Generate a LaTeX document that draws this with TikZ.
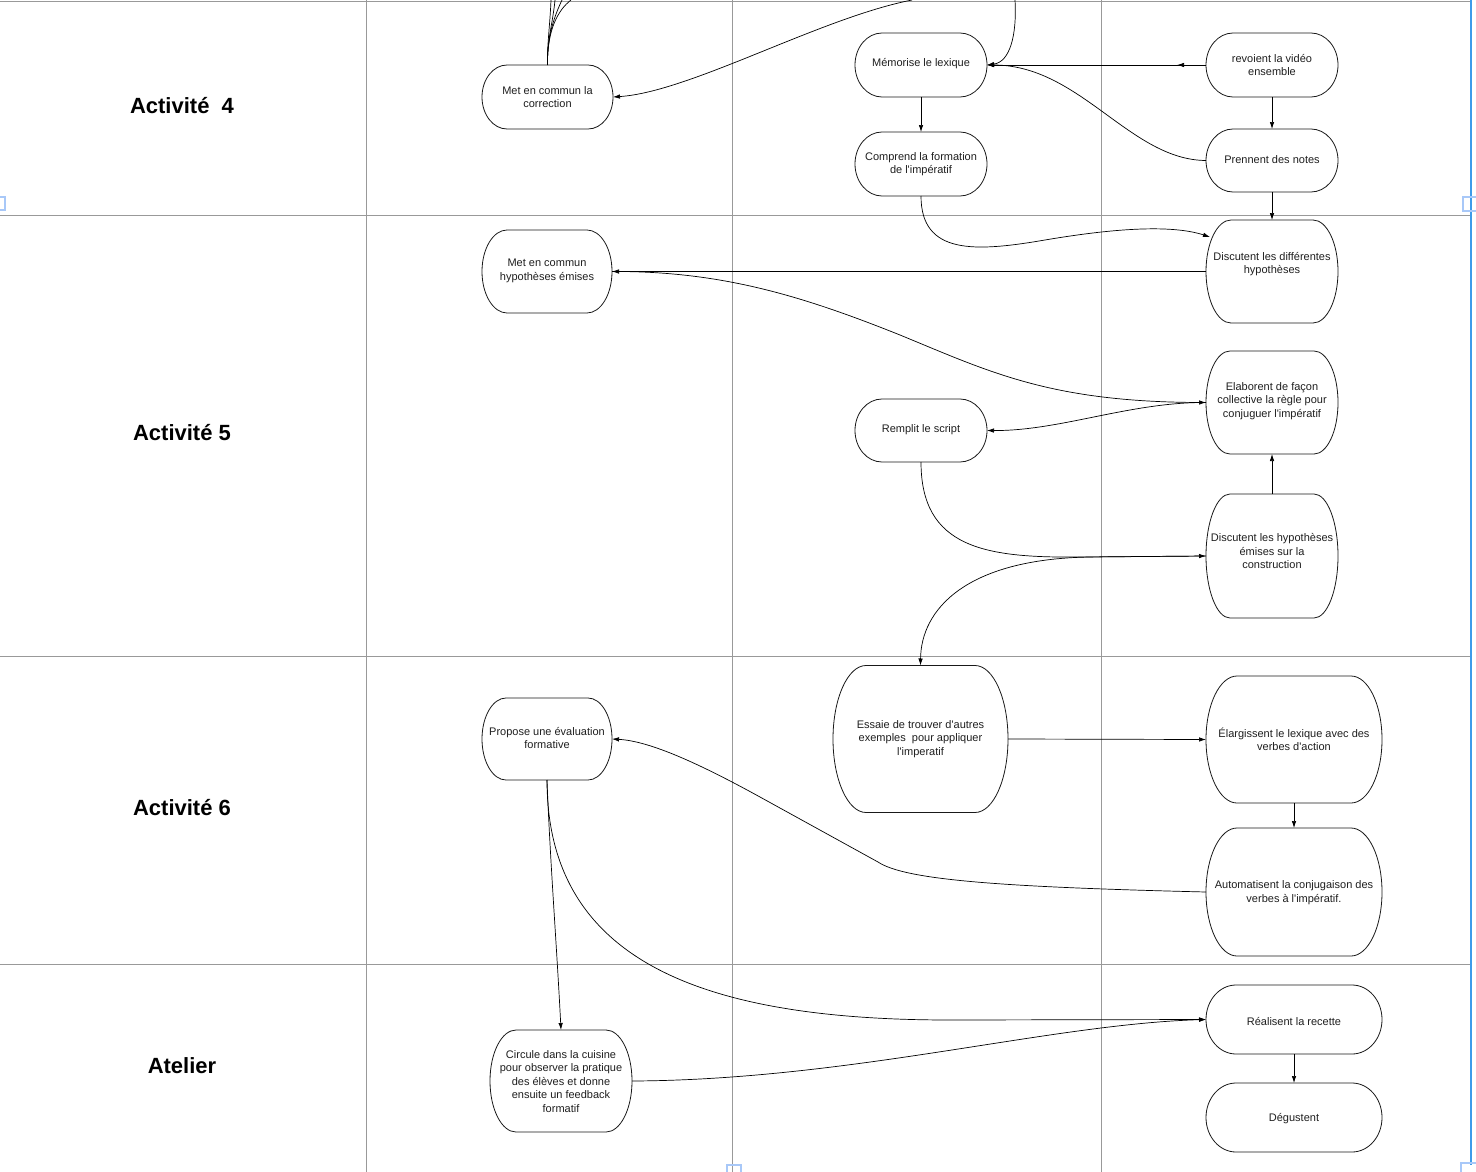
\documentclass[tikz,border=0pt]{standalone}
\usepackage{fontspec}
\setmainfont{Liberation Sans}[Ligatures=TeXOff]
\usetikzlibrary{arrows.meta,calc}
\definecolor{selblue}{HTML}{3D9BE9}
\definecolor{handleblue}{HTML}{A8C8F8}
\tikzset{
 lane/.style={draw=black!40, line width=0.8pt},
 outline/.style={draw=black!90, line width=0.8pt},
 shapebox/.style={rectangle, draw=none, inner sep=0pt, outer sep=0pt},
 nodetext/.style={align=center, inner sep=0pt, font=\fontsize{11}{13.5}\selectfont, text=black!88},
 lanelabel/.style={font=\fontsize{22}{26}\selectfont\bfseries, inner sep=0pt},
 arr/.style={draw=black, line width=0.7pt, -{Latex[length=7pt,width=4.5pt]}},
 link/.style={draw=black, line width=0.7pt},
 handle/.style={draw=handleblue, line width=1.5pt}
}
% name, x, y, w, h, rx, text dy, text
\newcommand\stadnode[8]{%
 \node[shapebox, minimum width=#4pt, minimum height=#5pt] (#1) at (#2,#3) {};
 \node[nodetext] (#1-t) at ($(#1.center)+(0,#7+1.5)$) {#8};
 \draw[outline] ($(#1.north west)+(#6pt,0pt)$) -- ($(#1.north east)+(-#6pt,0pt)$)
   arc[start angle=90,end angle=-90,x radius=#6pt,y radius=#5pt/2]
   -- ($(#1.south west)+(#6pt,0pt)$)
   arc[start angle=270,end angle=90,x radius=#6pt,y radius=#5pt/2] -- cycle;
}
\begin{document}
\begin{tikzpicture}[x=1pt,y=-1pt]
\useasboundingbox (0,0) rectangle (1476,1172);
\fill[white] (0,0) rectangle (1476,1172);
% swimlane grid
\draw[lane] (0,1) -- (1470,1);
\draw[lane] (0,215) -- (1470,215);
\draw[lane] (0,656) -- (1470,656);
\draw[lane] (0,964) -- (1470,964);
\draw[lane] (366,0) -- (366,1172);
\draw[lane] (732,0) -- (732,1172);
\draw[lane] (1101,0) -- (1101,1172);
\draw[selblue, line width=2pt] (1471,0) -- (1471,1165);
\draw[handle] (-3,197) rectangle (5,210);
\draw[handle] (1463,197) rectangle (1479,211);
\draw[handle] (727,1165) rectangle (741,1176);
\draw[handle] (1461,1163) rectangle (1479,1176);
% lane labels
\node[lanelabel] (labA) at (182,106) {Activité\ \ 4};
\node[lanelabel] (labB) at (182,433) {Activité 5};
\node[lanelabel] (labC) at (182,808) {Activité 6};
\node[lanelabel] (labD) at (182,1066) {Atelier};
% nodes
\stadnode{mcA}{547.5}{97}{131}{64}{25}{-1.5}{Met en commun la\\correction}
\stadnode{mem}{921}{65}{132}{64}{27}{-2.5}{Mémorise le lexique}
\stadnode{comp}{921}{164}{132}{64}{27}{-1.5}{Comprend la formation\\de l'impératif}
\stadnode{rev}{1272}{65}{132}{64}{27}{-1.5}{revoient la vidéo\\ensemble}
\stadnode{pren}{1272}{160.5}{132}{63}{27}{-2}{Prennent des notes}
\stadnode{mcB}{547}{271.5}{130}{83}{25}{-2}{Met en commun\\hypothèses émises}
\stadnode{discA}{1272}{271.5}{132}{103}{25}{-9}{Discutent les différentes\\hypothèses}
\stadnode{elab}{1272}{402.5}{132}{103}{24}{-3}{Elaborent de façon\\collective la règle pour\\conjuguer l'impératif}
\stadnode{rem}{921}{430.5}{132}{63}{27}{-2.5}{Remplit le script}
\stadnode{discB}{1272}{556}{132}{124}{24}{-6.5}{Discutent les hypothèses\\émises sur la\\construction}
\stadnode{prop}{547}{739}{130}{82}{24}{-2.5}{Propose une évaluation\\formative}
\stadnode{ess}{920.5}{739}{175}{147}{33}{-1.5}{Essaie de trouver d'autres\\exemples\ \ pour appliquer\\l'imperatif}
\stadnode{elarg}{1294}{739.5}{176}{127}{31}{-1.5}{Élargissent le lexique avec des\\verbes d'action}
\stadnode{auto}{1294}{892}{176}{128}{31}{-1}{Automatisent la conjugaison des\\verbes à l'impératif.}
\stadnode{circ}{561}{1081}{142}{102}{26}{-1}{Circule dans la cuisine\\pour observer la pratique\\des élèves et donne\\ensuite un feedback\\formatif}
\stadnode{real}{1294}{1019.5}{176}{69}{30}{0}{Réalisent la recette}
\stadnode{deg}{1294}{1117.5}{176}{69}{30}{0}{Dégustent}
% free ends
\coordinate (topA) at (1015,0);
\coordinate (topB) at (912,0);
\coordinate (t1) at (551,0);
\coordinate (t2) at (555,0);
\coordinate (t3) at (562,0);
\coordinate (t4) at (571,0);
\coordinate (revmid) at (1177,65);
% connectors
\draw[link] (t1) .. controls (550,25) and (547,45) .. (mcA.north);
\draw[link] (t2) .. controls (553,22) and (547,40) .. (mcA.north);
\draw[link] (t3) .. controls (555,15) and (547,35) .. (mcA.north);
\draw[link] (t4) .. controls (558,10) and (547,30) .. (mcA.north);
\draw[arr] (topB) .. controls (820,18) and (690,92) .. (mcA.east);
\draw[arr] (topA) .. controls (1017,35) and (1010,62) .. (mem.east);
\draw[arr] (rev.west) -- (revmid);
\draw[arr] (rev.west) -- (mem.east);
\draw[arr] (pren.west) .. controls (1130,160) and (1080,65) .. (mem.east);
\draw[arr] (mem.south) -- (comp.north);
\draw[arr] (rev.south) -- (pren.north);
\draw[arr] (pren.south) -- (discA.north);
\draw[arr] (comp.south) .. controls (921,255) and (975,252) .. (1045,240)
   .. controls (1110,229) and (1170,224) .. ($(discA.north west)+(4,17)$);
\draw[arr] (discA.west) -- (mcB.east);
\draw[arr] (mcB.east) .. controls (720,271) and (800,295) .. (900,335)
   .. controls (990,372) and (1050,402) .. (elab.west);
\draw[arr] (elab.west) .. controls (1130,402) and (1060,431) .. (rem.east);
\draw[arr] (discB.north) -- (elab.south);
\draw[arr] (rem.south) .. controls (921,548) and (985,558) .. (1080,557) -- (discB.west);
\draw[arr] (discB.west) -- (1090,557) .. controls (965,559) and (921,610) .. (ess.north);
\draw[arr] (ess.east) -- (elarg.west);
\draw[arr] (elarg.south) -- (auto.north);
\draw[arr] (auto.west) .. controls (1000,887) and (905,880) .. (878,862) -- (760,797)
   .. controls (700,764) and (650,741) .. (prop.east);
\draw[arr] (prop.south) .. controls (550,860) and (557,950) .. (circ.north);
\draw[arr] (prop.south) .. controls (547,960) and (700,1020) .. (950,1020) -- (real.west);
\draw[arr] (circ.east) .. controls (850,1080) and (1050,1024) .. (real.west);
\draw[arr] (real.south) -- (deg.north);
\end{tikzpicture}
\end{document}
